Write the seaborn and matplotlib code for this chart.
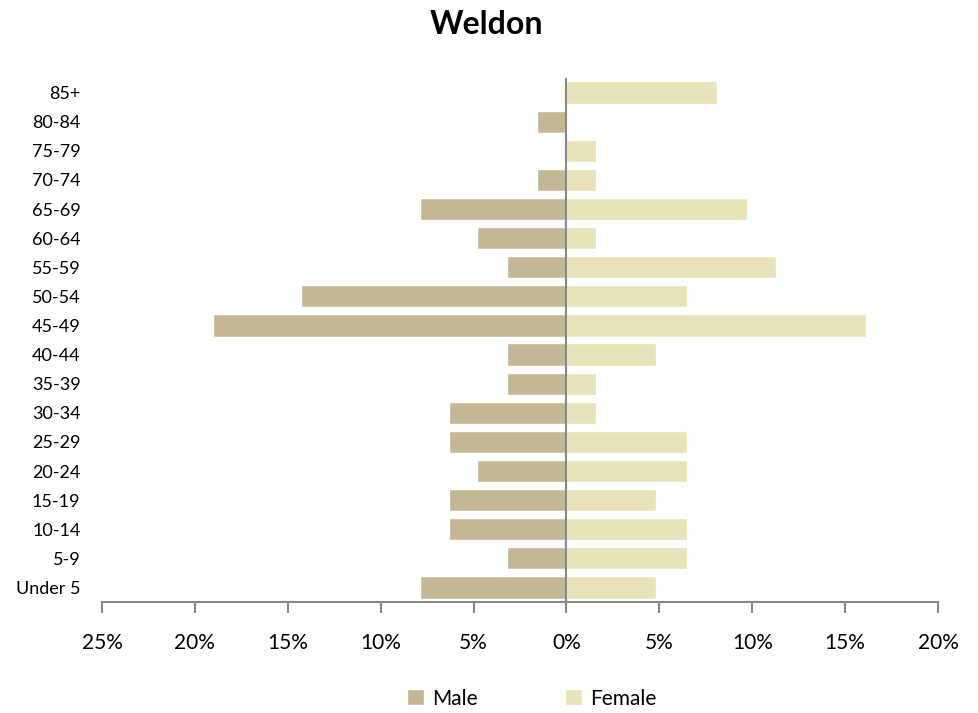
import matplotlib
matplotlib.use("Agg")
import matplotlib.pyplot as plt
import seaborn as sns
import pandas as pd

ages = ["85+", "80-84", "75-79", "70-74", "65-69", "60-64", "55-59", "50-54",
        "45-49", "40-44", "35-39", "30-34", "25-29", "20-24", "15-19",
        "10-14", "5-9", "Under 5"]
male = [0.0, 1.6, 0.0, 1.6, 7.9, 4.8, 3.2, 14.3, 19.0, 3.2, 3.2, 6.3, 6.3,
        4.8, 6.3, 6.3, 3.2, 7.9]
female = [8.1, 0.0, 1.6, 1.6, 9.7, 1.6, 11.3, 6.5, 16.1, 4.8, 1.6, 1.6, 6.5,
          6.5, 4.8, 6.5, 6.5, 4.8]
xticks = [-25, -20, -15, -10, -5, 0, 5, 10, 15, 20]

df = pd.DataFrame({
    "age": ages * 2,
    "value": [-v for v in male] + female,
    "sex": ["Male"] * len(ages) + ["Female"] * len(ages),
})

sns.set_style("white")
plt.rcParams["font.family"] = ["Lato", "DejaVu Sans"]
plt.rcParams["text.color"] = "black"
plt.rcParams["xtick.color"] = "black"
plt.rcParams["ytick.color"] = "black"

fig = plt.figure(figsize=(9.79, 7.13), dpi=100)
ax = fig.add_axes([102 / 979, 111 / 713, 836 / 979, 524 / 713])

sns.barplot(data=df, x="value", y="age", hue="sex", order=ages,
            palette={"Male": "#c4b794", "Female": "#eae2b8"},
            dodge=False, orient="h", width=0.76, saturation=1, ax=ax)

ax.set_xlim(-25, 20)
ax.set_xticks(xticks)
ax.set_xticklabels([f"{abs(t)}%" for t in xticks], fontsize=15)
ax.tick_params(axis="x", bottom=True, direction="out", length=8, width=1.5,
               color="#888888", labelcolor="black", pad=14)
ax.tick_params(axis="y", left=False, labelsize=13, pad=12, labelcolor="black")
ax.set_xlabel("")
ax.set_ylabel("")
for side in ["top", "right", "left"]:
    ax.spines[side].set_visible(False)
ax.spines["bottom"].set_color("#888888")
ax.spines["bottom"].set_linewidth(1.5)
ax.axvline(0, color="#888888", lw=1.5)

ax.set_title("Weldon", fontsize=23, fontweight="bold", pad=32, x=0.46, color="black")

ax.legend(loc="lower center", bbox_to_anchor=(0.543, -0.02), bbox_transform=fig.transFigure,
          ncol=2, frameon=False, fontsize=15, handlelength=0.8, handleheight=0.8,
          columnspacing=4.2, handletextpad=0.4)

fig.savefig("out.png", dpi=100)
